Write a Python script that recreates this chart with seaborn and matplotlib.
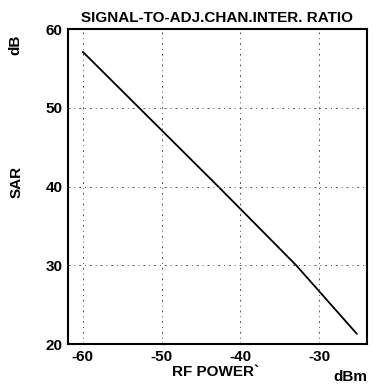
import matplotlib
matplotlib.use('Agg')
import matplotlib.pyplot as plt
import seaborn as sns
import pandas as pd

# 数据：RF 功率 (dBm) 与 SAR (dB)
rf_power = [-60.0, -42.8, -32.9, -25.2]
sar = [57.1, 40.0, 30.0, 21.3]
x_ticks = [-60, -50, -40, -30]
y_ticks = [20, 30, 40, 50, 60]

sns.set_style('white')
plt.rcParams['font.family'] = ['Liberation Sans', 'DejaVu Sans']
plt.rcParams['font.weight'] = 'bold'
plt.rcParams['text.color'] = 'black'

df = pd.DataFrame({'rf': rf_power, 'sar': sar})

fig = plt.figure(figsize=(3.73, 3.87), dpi=100)
ax = fig.add_axes([0.182, 0.111, 0.802, 0.814])

sns.lineplot(data=df, x='rf', y='sar', color='black', linewidth=1.3, ax=ax)

ax.set_xlim(-61.9, -23.9)
ax.set_ylim(20, 60)
ax.set_xticks(x_ticks)
ax.set_yticks(y_ticks)
ax.set_xticklabels([str(t) for t in x_ticks], fontsize=11, fontweight='bold')
ax.set_yticklabels([str(t) for t in y_ticks], fontsize=11, fontweight='bold')
ax.tick_params(direction='in', length=3, width=1, colors='black', labelcolor='black', pad=4)

# 网格线（稀疏点划线）
for t in x_ticks:
    ax.axvline(t, color='#555555', linestyle=(0, (2, 4, 1, 4)), linewidth=0.7)
for t in [30, 40, 50]:
    ax.axhline(t, color='#555555', linestyle=(0, (2, 4, 1, 4)), linewidth=0.7)

for s in ax.spines.values():
    s.set_color('black')
    s.set_linewidth(1.5)

ax.set_xlabel('')
ax.set_ylabel('')
ax.set_title('SIGNAL-TO-ADJ.CHAN.INTER. RATIO', fontsize=11, fontweight='bold', pad=5, color='black')

fig.text(0.042, 0.885, 'dB', rotation=90, fontsize=11, fontweight='bold', ha='center', va='center')
fig.text(0.045, 0.53, 'SAR', rotation=90, fontsize=11, fontweight='bold', ha='center', va='center')
fig.text(0.577, 0.038, 'RF POWER`', fontsize=11, fontweight='bold', ha='center', va='center')
fig.text(0.94, 0.025, 'dBm', fontsize=11, fontweight='bold', ha='center', va='center')

fig.savefig('out.png', dpi=100)
